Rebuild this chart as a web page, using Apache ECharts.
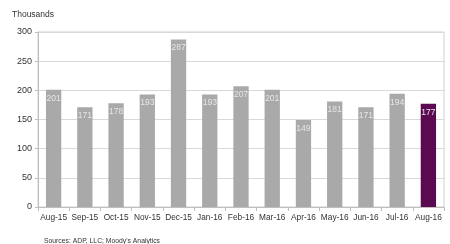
<!DOCTYPE html>
<html><head><meta charset="utf-8">
<script src="https://cdn.jsdelivr.net/npm/echarts@6/dist/echarts.min.js"></script>
<style>html,body{margin:0;padding:0;background:#fff}#c{width:450px;height:244px}</style>
</head><body><div id="c"></div>
<script>
const categories = ["Aug-15","Sep-15","Oct-15","Nov-15","Dec-15","Jan-16","Feb-16","Mar-16","Apr-16","May-16","Jun-16","Jul-16","Aug-16"];
const values = [201,171,178,193,287,193,207,201,149,181,171,194,177];
const yTicks = [0,50,100,150,200,250,300];
const highlightIndex = 12;

const chart = echarts.init(document.getElementById('c'), null, {renderer:'canvas'});
chart.setOption({
  animation:false,
  textStyle:{fontFamily:'Liberation Sans, Arial, sans-serif'},
  title:[
    {text:'Thousands', left:7, top:5, textStyle:{fontSize:8.5, fontWeight:'normal', color:'#333'}},
    {text:"Sources: ADP, LLC; Moody's Analytics", left:39, top:233, textStyle:{fontSize:6.8, fontWeight:'normal', color:'#333'}}
  ],
  grid:{left:38, right:6, top:32, bottom:37, containLabel:false, show:true, borderColor:'#d0d0d0', borderWidth:1, backgroundColor:'transparent'},
  xAxis:{type:'category', data:categories,
    axisLine:{lineStyle:{color:'#bfbfbf'}},
    axisTick:{show:true, length:4, lineStyle:{color:'#bfbfbf'}},
    axisLabel:{color:'#333', fontSize:8.3, margin:7, interval:0}},
  yAxis:{type:'value', min:yTicks[0], max:yTicks[yTicks.length-1], interval:50,
    axisLine:{show:true, lineStyle:{color:'#bfbfbf'}},
    axisTick:{show:true, length:3, lineStyle:{color:'#bfbfbf'}},
    axisLabel:{color:'#333', fontSize:9, margin:6},
    splitLine:{lineStyle:{color:'#d9d9d9'}}},
  series:[{type:'bar', barWidth:'49%',
    data: values.map((v,i)=>({value:v, itemStyle:{color: i===highlightIndex ? '#5b0a52' : '#a9a9a9'}})),
    label:{show:true, position:'insideTop', distance:4, color:'#e6e6e6', fontSize:8.5}
  }]
});
</script></body></html>
